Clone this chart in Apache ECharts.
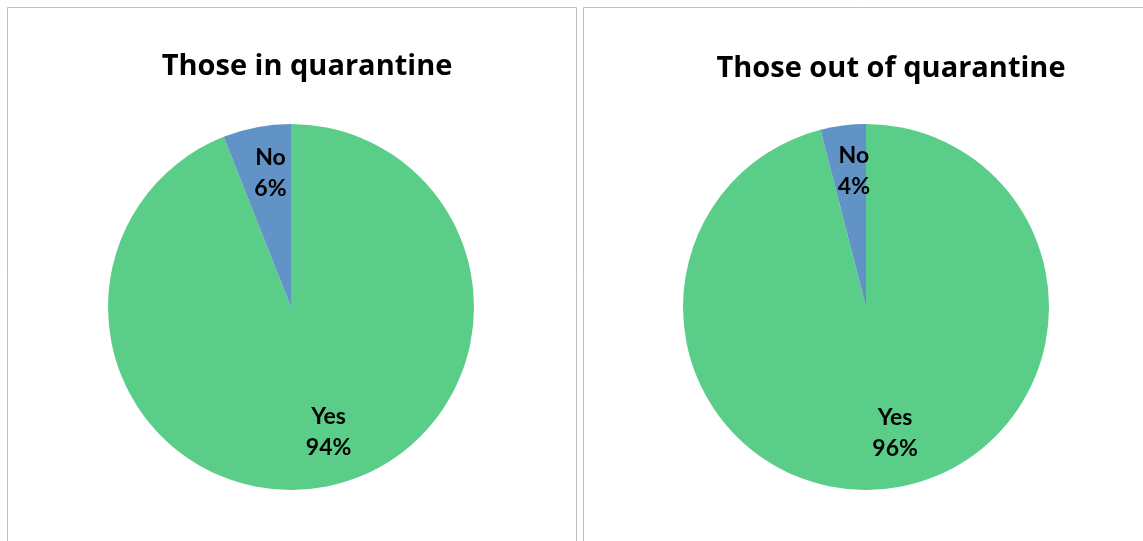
<!DOCTYPE html>
<html>
<head>
<meta charset="utf-8">
<script src="https://cdn.jsdelivr.net/npm/echarts@6/dist/echarts.min.js"></script>
<style>
  html, body { margin: 0; padding: 0; background: #fff; }
  #chart { width: 1143px; height: 541px; }
</style>
</head>
<body>
<div id="chart"></div>
<script>
// Survey answers, percent of respondents
const categories = ['Yes', 'No'];
const inQuarantine = [94, 6];
const outOfQuarantine = [96, 4];
const panelTitles = ['Those in quarantine', 'Those out of quarantine'];

const sliceColors = ['#5ACD89', '#6193C7'];
const LABEL_FONT = 'Lato, "Open Sans", sans-serif';
const TITLE_FONT = '"Open Sans", Lato, sans-serif';

// Small nudges so each label sits where it reads best inside its slice
const labelNudge = {
  Yes: { dx: 12, dy: -9 },
  No: { dx: 5, dy: 0 }
};

function toData(values) {
  return categories.map((name, i) => ({ name, value: values[i] }));
}

// Filled pie, no labels
function piePlate(values, cx) {
  return {
    type: 'pie',
    center: [cx, 307],
    radius: [0, 183],
    startAngle: 90,
    clockwise: true,
    silent: true,
    animation: false,
    color: sliceColors,
    label: { show: false },
    labelLine: { show: false },
    data: toData(values)
  };
}

// Transparent ring carrying the labels further out along each slice
function pieLabels(values, cx) {
  return {
    type: 'pie',
    center: [cx, 307],
    radius: [84, 183],
    startAngle: 90,
    clockwise: true,
    silent: true,
    animation: false,
    itemStyle: { color: 'rgba(0,0,0,0)' },
    label: {
      show: true,
      position: 'inside',
      formatter: '{b}\n{c}%',
      color: '#000',
      fontFamily: LABEL_FONT,
      fontWeight: 'bold',
      fontSize: 23,
      lineHeight: 31
    },
    labelLine: { show: false },
    labelLayout: function (p) {
      const n = labelNudge[p.text.split('\n')[0]] || { dx: 0, dy: 0 };
      return { dx: n.dx, dy: n.dy };
    },
    data: toData(values)
  };
}

const chart = echarts.init(document.getElementById('chart'), null, { renderer: 'canvas' });
chart.setOption({
  backgroundColor: '#fff',
  animation: false,
  graphic: [
    { type: 'rect', shape: { x: 7.5, y: 7.5, width: 569, height: 560 }, style: { fill: 'none', stroke: '#bfbfbf', lineWidth: 1 } },
    { type: 'rect', shape: { x: 583.5, y: 7.5, width: 580, height: 560 }, style: { fill: 'none', stroke: '#bfbfbf', lineWidth: 1 } }
  ],
  title: [
    { text: panelTitles[0], left: 302, top: 47, textAlign: 'center',
      textStyle: { fontFamily: TITLE_FONT, fontWeight: 'bold', fontSize: 29, color: '#000' } },
    { text: panelTitles[1], left: 886, top: 49, textAlign: 'center',
      textStyle: { fontFamily: TITLE_FONT, fontWeight: 'bold', fontSize: 29, color: '#000' } }
  ],
  series: [
    piePlate(inQuarantine, 291),
    pieLabels(inQuarantine, 291),
    piePlate(outOfQuarantine, 866),
    pieLabels(outOfQuarantine, 866)
  ]
});
</script>
</body>
</html>
